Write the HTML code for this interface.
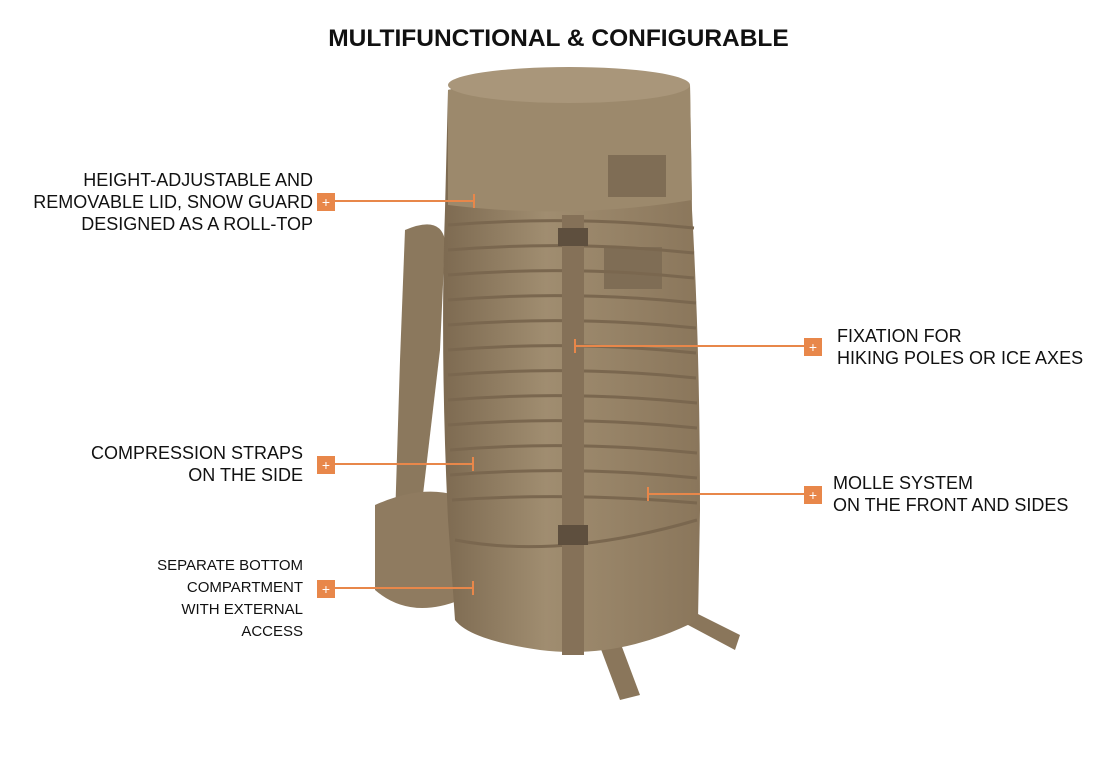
<!DOCTYPE html>
<html><head><style>
body{margin:0;width:1103px;height:771px;background:#fff;position:relative;overflow:hidden;font-family:"Liberation Sans",sans-serif;}
.t{position:absolute;font-size:18px;color:#111;line-height:22px;white-space:nowrap;}
.r{text-align:right;}
h1{position:absolute;left:0;width:1117px;top:25px;margin:0;text-align:center;font-size:24.5px;font-weight:bold;color:#111;}
</style></head><body>
<h1>MULTIFUNCTIONAL &amp; CONFIGURABLE</h1>
<svg width="1103" height="771" style="position:absolute;left:0;top:0">
<defs>
<linearGradient id="g" x1="0" x2="1"><stop offset="0" stop-color="#7d6a51"/><stop offset="0.4" stop-color="#a08d70"/><stop offset="1" stop-color="#8a765b"/></linearGradient>
</defs>
<path d="M590 620 L620 700 L640 695 L610 615Z" fill="#8a765b"/>
<path d="M660 610 L735 650 L740 635 L670 600Z" fill="#8a765b"/>
<path d="M405 230 Q440 215 445 240 L440 350 L420 520 L395 520 L400 360Z" fill="#8b785d"/>
<path d="M375 505 Q420 485 455 495 L460 600 Q410 620 375 590Z" fill="#8f7b60"/>
<path d="M448 90 Q570 60 690 85 L692 210 Q700 350 700 510 L698 620 Q620 660 540 650 Q470 640 455 620 L448 520 Q440 350 445 210Z" fill="url(#g)"/>
<path d="M448 90 Q570 60 690 85 L692 200 Q570 220 448 205Z" fill="#9c896c"/>
<ellipse cx="569" cy="85" rx="121" ry="18" fill="#a9967a"/>
<rect x="608" y="155" width="58" height="42" fill="#7f6d55"/>
<rect x="604" y="247" width="58" height="42" fill="#7f6d55"/>
<g stroke="#7a674f" stroke-width="3" fill="none">
<path d="M448 225 Q570 215 694 228"/><path d="M448 250 Q570 240 694 253"/>
<path d="M448 275 Q570 265 694 278"/><path d="M448 300 Q570 290 696 303"/>
<path d="M448 325 Q570 315 696 328"/><path d="M448 350 Q570 340 696 353"/>
<path d="M448 375 Q570 365 696 378"/><path d="M448 400 Q570 390 697 403"/>
<path d="M448 425 Q570 415 697 428"/><path d="M450 450 Q570 440 697 453"/>
<path d="M450 475 Q570 465 697 478"/><path d="M452 500 Q570 492 697 503"/>
<path d="M455 540 Q560 560 697 520"/>
</g>
<rect x="562" y="215" width="22" height="440" fill="#857158"/>
<rect x="558" y="228" width="30" height="18" fill="#5e4f3e"/>
<rect x="558" y="525" width="30" height="20" fill="#5e4f3e"/>
<g stroke="#e8874a" stroke-width="2">
<line x1="335" y1="201" x2="474" y2="201"/><line x1="474" y1="194" x2="474" y2="208"/>
<line x1="575" y1="346" x2="804" y2="346"/><line x1="575" y1="339" x2="575" y2="353"/>
<line x1="335" y1="464" x2="473" y2="464"/><line x1="473" y1="457" x2="473" y2="471"/>
<line x1="648" y1="494" x2="804" y2="494"/><line x1="648" y1="487" x2="648" y2="501"/>
<line x1="335" y1="588" x2="473" y2="588"/><line x1="473" y1="581" x2="473" y2="595"/>
</g>
<g fill="#e8874a">
<rect x="317" y="193" width="18" height="18"/><rect x="804" y="338" width="18" height="18"/>
<rect x="317" y="456" width="18" height="18"/><rect x="804" y="486" width="18" height="18"/>
<rect x="317" y="580" width="18" height="18"/>
</g>
<g fill="#fff" font-family="Liberation Sans" font-size="14" text-anchor="middle">
<text x="326" y="207">+</text><text x="813" y="352">+</text><text x="326" y="470">+</text><text x="813" y="500">+</text><text x="326" y="594">+</text>
</g>
</svg>
<div class="t r" style="right:790px;top:169px">HEIGHT-ADJUSTABLE AND<br>REMOVABLE LID, SNOW GUARD<br>DESIGNED AS A ROLL-TOP</div>
<div class="t" style="left:837px;top:325px">FIXATION FOR<br>HIKING POLES OR ICE AXES</div>
<div class="t r" style="right:800px;top:442px">COMPRESSION STRAPS<br>ON THE SIDE</div>
<div class="t" style="left:833px;top:472px">MOLLE SYSTEM<br>ON THE FRONT AND SIDES</div>
<div class="t r" style="right:800px;top:555px;font-size:15px">SEPARATE BOTTOM<br>COMPARTMENT<br>WITH EXTERNAL<br>ACCESS</div>
</body></html>
